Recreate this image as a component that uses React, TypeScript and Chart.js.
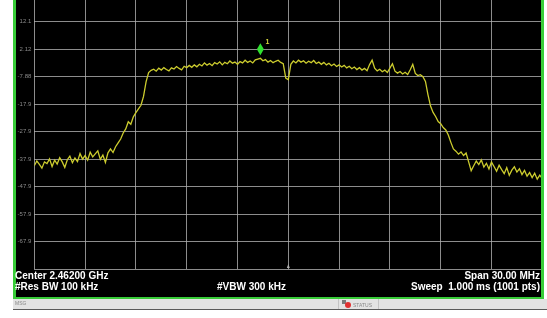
import React, { useEffect, useRef } from "react";
import { Chart, registerables } from "chart.js";

Chart.register(...registerables);

// Sweep: 1001 points over 30 MHz span, trace sampled every 5 points
const SWEEP_STEP = 5;
const SWEEP_POINTS_MAX = 1000;

const TRACE_DBM: number[] = [
  // 0 - 155 (left noise floor)
  -40.3, -38.6, -39.8, -41.2, -38.9, -39.5, -37.8, -40.6, -38.3, -39.7,
  -37.4, -38.9, -40.9, -38.1, -36.8, -39.2, -37.5, -38.8, -35.9, -37.9,
  -36.6, -38.3, -35.4, -37.1, -36.0, -34.9, -38.0, -36.4, -39.1, -35.6,
  -34.2, -35.5,
  // 160 - 230 (rising edge)
  -33.4, -32.0, -30.6, -28.4, -26.9, -24.3, -25.2, -22.5, -21.0, -19.6,
  -18.3, -15.1, -9.8, -6.4, -5.6,
  // 235 - 765 (channel top)
  -5.2, -5.9, -4.8, -5.5, -4.6, -5.3, -5.8, -4.7, -5.1, -4.2,
  -4.9, -5.4, -4.1, -4.6, -3.8, -4.5, -3.6, -4.3, -3.4, -4.0,
  -2.9, -3.7, -3.1, -3.9, -2.8, -3.3, -2.5, -3.6, -2.7, -3.2,
  -2.2, -3.0, -2.6, -3.4, -2.4, -2.9, -1.9, -2.7, -2.2, -2.9,
  -1.8, -1.5, -1.2, -2.1, -1.7, -2.6, -2.0, -2.8, -2.3, -1.9,
  -2.7, -3.2, -8.4, -9.0, -3.4, -2.2, -2.9, -1.9, -2.6, -2.1,
  -3.0, -2.3, -2.8, -2.0, -3.1, -2.6, -3.4, -2.7, -3.6, -3.0,
  -3.9, -3.3, -4.2, -3.6, -4.4, -3.8, -4.7, -4.1, -5.0, -4.4,
  -5.3, -4.6, -5.5, -4.9, -5.7, -3.5, -1.9, -4.8, -5.8, -5.2,
  -6.1, -5.5, -6.4, -4.8, -3.2, -5.9, -6.6, -6.0, -6.9, -6.3,
  -7.1, -5.4, -3.4, -6.7, -7.5, -7.2, -7.9,
  // 770 - 860 (falling edge)
  -9.6, -14.5, -18.6, -20.9, -22.4, -24.2, -25.0, -26.4, -27.3, -29.1,
  -31.8, -34.2, -35.0, -36.1, -35.3, -36.6, -35.7, -38.9, -42.1,
  // 865 - 1000 (right noise floor)
  -40.3, -38.6, -39.9, -38.2, -40.8, -39.4, -41.5, -39.0, -40.6, -42.3,
  -40.1, -41.7, -43.2, -41.0, -43.8, -41.9, -40.7, -42.6, -41.4, -43.5,
  -42.0, -44.1, -42.8, -44.6, -43.0, -45.2, -43.7, -45.0,
];

const Y_MAX = 20.0;
const Y_MIN = -77.88;
const Y_TICK_VALUES = [12.12, 2.12, -7.88, -17.88, -27.88, -37.88, -47.88, -57.88, -67.88, -77.88];
const Y_TICK_LABELS = ["12.1", "2.12", "-7.88", "-17.9", "-27.9", "-37.9", "-47.9", "-57.9", "-67.9", ""];
const X_GRID = [0, 100, 200, 300, 400, 500, 600, 700, 800, 900, 1000];
const CENTER_INDEX = 500;

const MARKER_INDEX = 445;
const MARKER_LABEL = "1";

const INFO_TOP_LEFT = "Center 2.46200 GHz";
const INFO_BOTTOM_LEFT = "#Res BW 100 kHz";
const INFO_BOTTOM_MID = "#VBW 300 kHz";
const INFO_TOP_RIGHT = "Span 30.00 MHz";
const INFO_BOTTOM_RIGHT = "Sweep  1.000 ms (1001 pts)";
const STATUS_MSG = "MSG";
const STATUS_TEXT = "STATUS";

const GREEN = "#38cc38";
const FONT = "'Liberation Sans', Arial, Helvetica, sans-serif";

const overlayPlugin = {
  id: "saOverlay",
  afterDatasetsDraw(chart: any) {
    const { ctx, chartArea, scales } = chart;
    const xs = scales.x;
    const ys = scales.y;
    ctx.save();
    // y labels
    ctx.font = `6px ${FONT}`;
    ctx.fillStyle = "#8a8a8a";
    ctx.textAlign = "right";
    ctx.textBaseline = "middle";
    Y_TICK_VALUES.forEach((v, i) => {
      const lbl = Y_TICK_LABELS[i];
      if (!lbl) return;
      ctx.fillText(lbl, chartArea.left - 3, ys.getPixelForValue(v));
    });
    // center tick
    const cx = xs.getPixelForValue(CENTER_INDEX);
    ctx.fillStyle = "#b0b0b0";
    ctx.beginPath();
    ctx.moveTo(cx - 1.5, chartArea.bottom - 1);
    ctx.lineTo(cx + 1.5, chartArea.bottom - 1);
    ctx.lineTo(cx, chartArea.bottom - 5);
    ctx.closePath();
    ctx.fill();
    // marker diamond
    const mx = xs.getPixelForValue(MARKER_INDEX);
    const my = ys.getPixelForValue(TRACE_DBM[Math.round(MARKER_INDEX / SWEEP_STEP)]);
    const bottom = my - 3;
    const top = bottom - 12;
    const mid = (top + bottom) / 2;
    ctx.beginPath();
    ctx.moveTo(mx, top);
    ctx.lineTo(mx + 3.5, mid);
    ctx.lineTo(mx, bottom);
    ctx.lineTo(mx - 3.5, mid);
    ctx.closePath();
    ctx.fillStyle = "#30e030";
    ctx.fill();
    ctx.font = `bold 7px ${FONT}`;
    ctx.fillStyle = "#d4d43c";
    ctx.textAlign = "center";
    ctx.textBaseline = "middle";
    ctx.fillText(MARKER_LABEL, mx + 7, top - 1);
    ctx.restore();
  },
};

export default function App() {
  const ref = useRef<HTMLCanvasElement | null>(null);

  useEffect(() => {
    if (!ref.current) return;
    const chart = new Chart(ref.current, {
      type: "line",
      data: {
        datasets: [
          {
            data: TRACE_DBM.map((v, i) => ({ x: i * SWEEP_STEP, y: v })),
            borderColor: "#cccc2e",
            borderWidth: 1.3,
            pointRadius: 0,
            tension: 0,
            fill: false,
          },
        ],
      },
      options: {
        animation: false,
        responsive: false,
        maintainAspectRatio: false,
        parsing: false as any,
        layout: { padding: { left: 0, right: 1.7, top: 0, bottom: 1 } },
        plugins: { legend: { display: false }, tooltip: { enabled: false } },
        scales: {
          x: {
            type: "linear",
            min: 0,
            max: SWEEP_POINTS_MAX,
            afterBuildTicks: (s: any) => {
              s.ticks = X_GRID.map((v) => ({ value: v }));
            },
            afterFit: (s: any) => {
              s.height = 0;
            },
            ticks: { display: false },
            grid: { color: "rgba(175,175,175,0.8)", lineWidth: 1, drawTicks: false },
            border: { display: false },
          },
          y: {
            type: "linear",
            min: Y_MIN,
            max: Y_MAX,
            afterBuildTicks: (s: any) => {
              s.ticks = Y_TICK_VALUES.map((v) => ({ value: v }));
            },
            afterFit: (s: any) => {
              s.width = 21.3;
            },
            ticks: { display: false },
            grid: { color: "rgba(175,175,175,0.8)", lineWidth: 1, drawTicks: false },
            border: { display: false },
          },
        },
      },
      plugins: [overlayPlugin],
    });
    return () => chart.destroy();
  }, []);

  const txt: React.CSSProperties = {
    position: "absolute",
    color: "#ffffff",
    fontFamily: FONT,
    fontWeight: "bold",
    fontSize: 10,
    lineHeight: "12px",
    whiteSpace: "pre",
  };

  return (
    <div
      style={{
        position: "fixed",
        left: 0,
        top: 0,
        width: 547,
        height: 318,
        background: "#ffffff",
        overflow: "hidden",
      }}
    >
      <div style={{ position: "absolute", left: 13, top: 0, width: 531, height: 298, background: "#000" }} />
      <canvas
        ref={ref}
        width={531}
        height={270}
        style={{ position: "absolute", left: 13, top: 0, width: 531, height: 270 }}
      />
      <div style={{ position: "absolute", left: 13, top: 0, width: 2.5, height: 298.5, background: GREEN }} />
      <div style={{ position: "absolute", left: 541.3, top: 0, width: 2.7, height: 298.5, background: GREEN }} />
      <div style={{ position: "absolute", left: 13, top: 296.5, width: 531, height: 2, background: GREEN }} />

      <div style={{ ...txt, left: 15, top: 270 }}>{INFO_TOP_LEFT}</div>
      <div style={{ ...txt, left: 15, top: 281 }}>{INFO_BOTTOM_LEFT}</div>
      <div style={{ ...txt, left: 217, top: 281 }}>{INFO_BOTTOM_MID}</div>
      <div style={{ ...txt, right: 7, top: 270, textAlign: "right" }}>{INFO_TOP_RIGHT}</div>
      <div style={{ ...txt, right: 7, top: 281, textAlign: "right" }}>{INFO_BOTTOM_RIGHT}</div>

      <div
        style={{
          position: "absolute",
          left: 13,
          top: 298.5,
          width: 534,
          height: 11.5,
          background: "#e3e3e3",
          borderBottom: "1.5px solid #5a5a5a",
          boxSizing: "border-box",
        }}
      />
      <div
        style={{
          position: "absolute",
          left: 15,
          top: 300,
          fontFamily: FONT,
          fontSize: 5,
          lineHeight: "6px",
          color: "#888",
        }}
      >
        {STATUS_MSG}
      </div>
      <div style={{ position: "absolute", left: 338, top: 299, width: 1, height: 10, background: "#c4c4c4" }} />
      <div style={{ position: "absolute", left: 378, top: 299, width: 1, height: 10, background: "#c4c4c4" }} />
      <div style={{ position: "absolute", left: 342, top: 300, width: 4, height: 4, background: "#7a7a7a" }} />
      <div
        style={{
          position: "absolute",
          left: 345,
          top: 302,
          width: 6,
          height: 6,
          borderRadius: 3,
          background: "#e23030",
        }}
      />
      <div
        style={{
          position: "absolute",
          left: 353,
          top: 301.5,
          fontFamily: FONT,
          fontSize: 5,
          lineHeight: "6px",
          color: "#888",
        }}
      >
        {STATUS_TEXT}
      </div>
    </div>
  );
}
